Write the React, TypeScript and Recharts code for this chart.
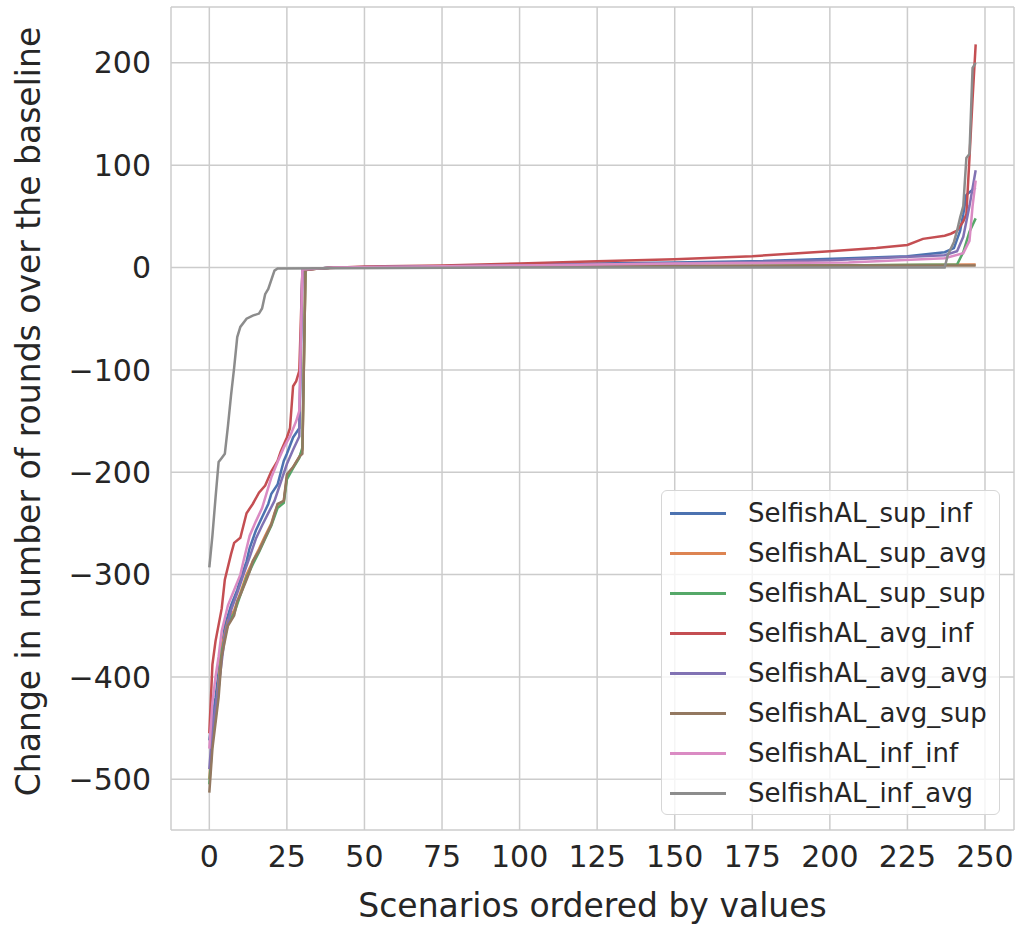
import React from 'react';
import { LineChart, Line, XAxis, YAxis, CartesianGrid, ReferenceLine, Legend } from 'recharts';

const xTicks = [0, 25, 50, 75, 100, 125, 150, 175, 200, 225, 250];
const yTicks = [-500, -400, -300, -200, -100, 0, 100, 200];

const seriesNames = [
  'SelfishAL_sup_inf',
  'SelfishAL_sup_avg',
  'SelfishAL_sup_sup',
  'SelfishAL_avg_inf',
  'SelfishAL_avg_avg',
  'SelfishAL_avg_sup',
  'SelfishAL_inf_inf',
  'SelfishAL_inf_avg',
];
const seriesColors = ['#4C72B0', '#DD8452', '#55A868', '#C44E52', '#8172B3', '#937860', '#DA8BC3', '#8C8C8C'];

// [scenario index, change in rounds]
const supInf = [[0,-462],[1,-440],[2,-420],[3,-395],[5,-350],[7,-330],[9,-315],[10,-305],[12,-287],[13,-274],[15,-257],[17,-244],[19,-231],[20,-221],[22,-212],[24,-189],[25,-182],[27,-166],[29,-157],[30,-2],[40,0],[75,1],[100,3],[150,5],[175,6],[206,9],[225,11],[237,15],[240,19],[242,36],[243,52],[244,71],[246,76],[247,78]];
const supAvg = [[0,-500],[1,-460],[2,-435],[3,-405],[4,-370],[6,-345],[8,-335],[10,-318],[12,-300],[14,-287],[16,-275],[18,-262],[20,-250],[21,-240],[22,-232],[24,-228],[25,-205],[27,-195],[29,-185],[30,-178],[31,-2],[40,0],[100,1],[200,2],[247,3]];
const supSup = [[0,-505],[1,-462],[2,-440],[3,-412],[4,-375],[6,-348],[8,-338],[10,-320],[12,-303],[14,-290],[16,-278],[18,-265],[20,-252],[22,-235],[24,-230],[25,-207],[27,-196],[29,-186],[30,-176],[31,-2],[40,0],[100,1],[200,2],[241,3],[243,15],[245,35],[247,48]];
const avgInf = [[0,-455],[1,-388],[2,-365],[4,-333],[5,-305],[7,-280],[8,-269],[10,-264],[12,-240],[14,-231],[16,-220],[18,-213],[20,-199],[22,-189],[23,-180],[25,-166],[26,-157],[27,-116],[28,-111],[29,-101],[30,-3],[35,-1],[50,1],[75,2],[100,4],[125,6],[150,8],[175,11],[200,16],[215,19],[225,22],[230,28],[237,31],[239,33],[241,36],[243,45],[244,52],[245,107],[246,165],[247,218]];
const avgAvg = [[0,-490],[1,-450],[2,-430],[3,-410],[5,-360],[7,-335],[9,-318],[11,-300],[13,-283],[15,-265],[17,-252],[19,-240],[21,-228],[23,-210],[25,-192],[27,-178],[29,-165],[30,-2],[40,0],[100,2],[150,4],[200,7],[237,12],[241,16],[243,30],[245,60],[247,95]];
const avgSup = [[0,-513],[1,-470],[2,-445],[3,-420],[4,-380],[6,-350],[8,-340],[9,-326],[10,-320],[12,-305],[13,-297],[14,-287],[16,-277],[18,-264],[20,-251],[21,-241],[22,-231],[24,-228],[25,-202],[27,-195],[29,-185],[30,-182],[31,-2],[40,0],[100,1],[200,2],[247,2]];
const infInf = [[0,-470],[1,-425],[2,-400],[3,-380],[4,-355],[6,-330],[8,-315],[10,-300],[11,-287],[13,-262],[15,-248],[17,-235],[19,-215],[20,-205],[22,-190],[24,-176],[26,-165],[28,-150],[29,-140],[30,-2],[40,0],[100,2],[150,4],[206,5],[237,9],[243,14],[245,26],[246,60],[247,85]];
const infAvg = [[0,-293],[1,-262],[2,-225],[3,-190],[4,-186],[5,-182],[6,-155],[7,-125],[8,-98],[9,-68],[10,-58],[12,-50],[14,-47],[16,-45],[17,-40],[18,-26],[19,-21],[21,-3],[22,-1],[100,0],[237,0],[238,12],[240,25],[241,36],[242,49],[243,60],[244,107],[245,111],[246,195],[247,200]];

const allSeries = [supInf, supAvg, supSup, avgInf, avgAvg, avgSup, infInf, infAvg];

const X_DOMAIN: [number, number] = [-12.35, 259.35];
const Y_DOMAIN: [number, number] = [-549.5, 254.5];

const FONT = '"DejaVu Sans", sans-serif';
const TEXT = '#262626';
const GRID = '#cccccc';

const fmt = (v: number) => (v < 0 ? '\u2212' + Math.abs(v) : String(v));

const LegendBox = () => (
  <div
    style={{
      position: 'relative',
      width: 339,
      height: 325,
      boxSizing: 'border-box',
      border: '1.5px solid #d6d6d6',
      borderRadius: 6,
      background: 'rgba(255,255,255,0.8)',
      fontFamily: FONT,
    }}
  >
    {seriesNames.map((n, i) => (
      <div key={n} style={{ position: 'absolute', left: 0, top: 2 + i * 40, height: 40, width: 339 }}>
        <div style={{ position: 'absolute', left: 8, top: 18.5, width: 56, height: 3, background: seriesColors[i] }} />
        <div
          style={{
            position: 'absolute',
            left: 86,
            top: 0,
            height: 40,
            lineHeight: '40px',
            fontSize: 26,
            color: TEXT,
            whiteSpace: 'nowrap',
          }}
        >
          {n}
        </div>
      </div>
    ))}
  </div>
);

export default function App() {
  return (
    <div style={{ position: 'absolute', left: 0, top: 0, width: 1017, height: 925, background: '#fff' }}>
      <LineChart width={1017} height={925} margin={{ top: 7, right: 3, bottom: 0, left: 0 }}>
        <CartesianGrid stroke={GRID} strokeWidth={1.5} horizontalValues={yTicks} verticalValues={xTicks} />
        <XAxis
          type="number"
          dataKey="x"
          domain={X_DOMAIN}
          ticks={xTicks}
          allowDataOverflow
          tickFormatter={fmt}
          tickSize={0}
          tickMargin={16}
          axisLine={{ stroke: GRID, strokeWidth: 1.5 }}
          tick={{ fill: TEXT, fontSize: 30, fontFamily: FONT }}
          height={95}
          label={(props: any) => {
            const vb = props.viewBox || {};
            return (
              <text
                x={vb.x + vb.width / 2}
                y={917}
                textAnchor="middle"
                fill={TEXT}
                fontSize={33}
                fontFamily={FONT}
              >
                Scenarios ordered by values
              </text>
            );
          }}
        />
        <YAxis
          type="number"
          domain={Y_DOMAIN}
          ticks={yTicks}
          allowDataOverflow
          tickFormatter={fmt}
          tickSize={0}
          tickMargin={20}
          width={171}
          axisLine={{ stroke: GRID, strokeWidth: 1.5 }}
          tick={{ fill: TEXT, fontSize: 30, fontFamily: FONT }}
          label={(props: any) => {
            const vb = props.viewBox || {};
            const cy = vb.y + vb.height / 2 - 7;
            return (
              <text
                x={40}
                y={cy}
                transform={`rotate(-90, 40, ${cy})`}
                textAnchor="middle"
                fill={TEXT}
                fontSize={33}
                fontFamily={FONT}
              >
                Change in number of rounds over the baseline
              </text>
            );
          }}
        />
        <ReferenceLine y={Y_DOMAIN[1]} stroke={GRID} strokeWidth={1.5} />
        <ReferenceLine x={X_DOMAIN[1]} stroke={GRID} strokeWidth={1.5} />
        {allSeries.map((s, i) => (
          <Line
            key={seriesNames[i]}
            name={seriesNames[i]}
            data={s.map(([x, y]) => ({ x, y }))}
            dataKey="y"
            type="linear"
            stroke={seriesColors[i]}
            strokeWidth={2.5}
            dot={false}
            activeDot={false}
            isAnimationActive={false}
          />
        ))}
        <Legend
          layout="horizontal"
          verticalAlign="middle"
          align="center"
          wrapperStyle={{ left: 661, top: 490, width: 339, height: 325 }}
          content={() => <LegendBox />}
        />
      </LineChart>
    </div>
  );
}
